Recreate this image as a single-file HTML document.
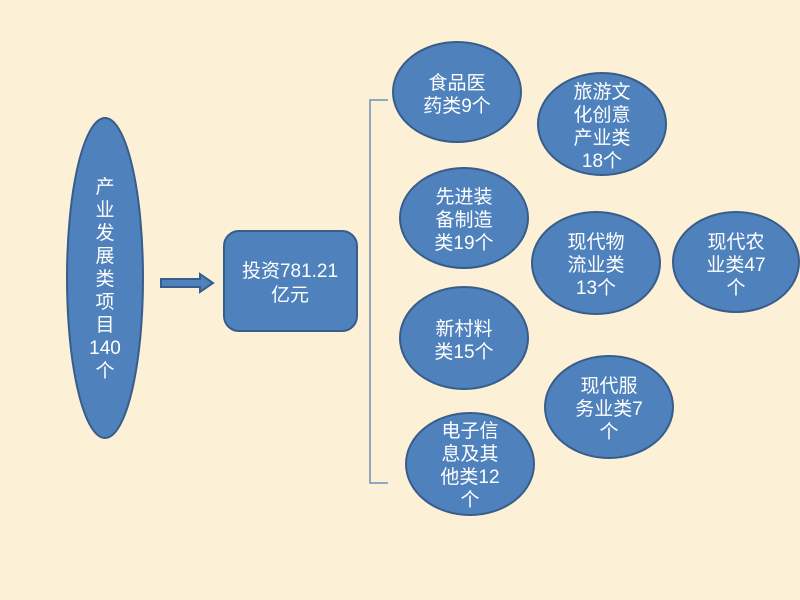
<!DOCTYPE html>
<html><head><meta charset="utf-8"><style>
html,body{margin:0;padding:0;width:800px;height:600px;overflow:hidden;background:#fcf0d7;}
svg text{font-family:"Liberation Sans","Noto Sans CJK SC",sans-serif;font-size:19px;fill:#fff;text-anchor:middle;}
</style></head><body>
<svg width="800" height="600" viewBox="0 0 800 600">
<rect width="800" height="600" fill="#fcf0d7"/>
<g fill="#4f81bd" stroke="#385d8a" stroke-width="2">
<ellipse cx="105" cy="278" rx="38" ry="160"/>
<rect x="224" y="231" width="133" height="100" rx="15"/>
<path d="M161 279 H200 V274 L213 283 L200 292 V287 H161 Z"/>
<ellipse cx="457" cy="92" rx="64" ry="50"/>
<ellipse cx="602" cy="124" rx="64" ry="51"/>
<ellipse cx="464" cy="218" rx="64" ry="50"/>
<ellipse cx="596" cy="263" rx="64" ry="51"/>
<ellipse cx="736" cy="262" rx="63" ry="50"/>
<ellipse cx="464" cy="338" rx="64" ry="51"/>
<ellipse cx="609" cy="407" rx="64" ry="51"/>
<ellipse cx="470" cy="464" rx="64" ry="51"/>
</g>
<path d="M388 100 H370 V483 H388" fill="none" stroke="#6f8fb5" stroke-width="1.5"/>
<text x="105" y="193">产</text><text x="105" y="216">业</text><text x="105" y="239">发</text><text x="105" y="262">展</text><text x="105" y="285">类</text><text x="105" y="308">项</text><text x="105" y="331">目</text><text x="105" y="354">140</text><text x="105" y="377">个</text>
<text x="290" y="277">投资781.21</text><text x="290" y="301">亿元</text>
<text x="457" y="89">食品医</text><text x="457" y="112">药类9个</text>
<text x="602" y="98">旅游文</text><text x="602" y="121">化创意</text><text x="602" y="144">产业类</text><text x="602" y="167">18个</text>
<text x="464" y="203">先进装</text><text x="464" y="226">备制造</text><text x="464" y="249">类19个</text>
<text x="596" y="248">现代物</text><text x="596" y="271">流业类</text><text x="596" y="294">13个</text>
<text x="736" y="248">现代农</text><text x="736" y="271">业类47</text><text x="736" y="294">个</text>
<text x="464" y="335">新村料</text><text x="464" y="358">类15个</text>
<text x="609" y="392">现代服</text><text x="609" y="415">务业类7</text><text x="609" y="438">个</text>
<text x="470" y="437">电子信</text><text x="470" y="460">息及其</text><text x="470" y="483">他类12</text><text x="470" y="506">个</text>
</svg>
</body></html>
